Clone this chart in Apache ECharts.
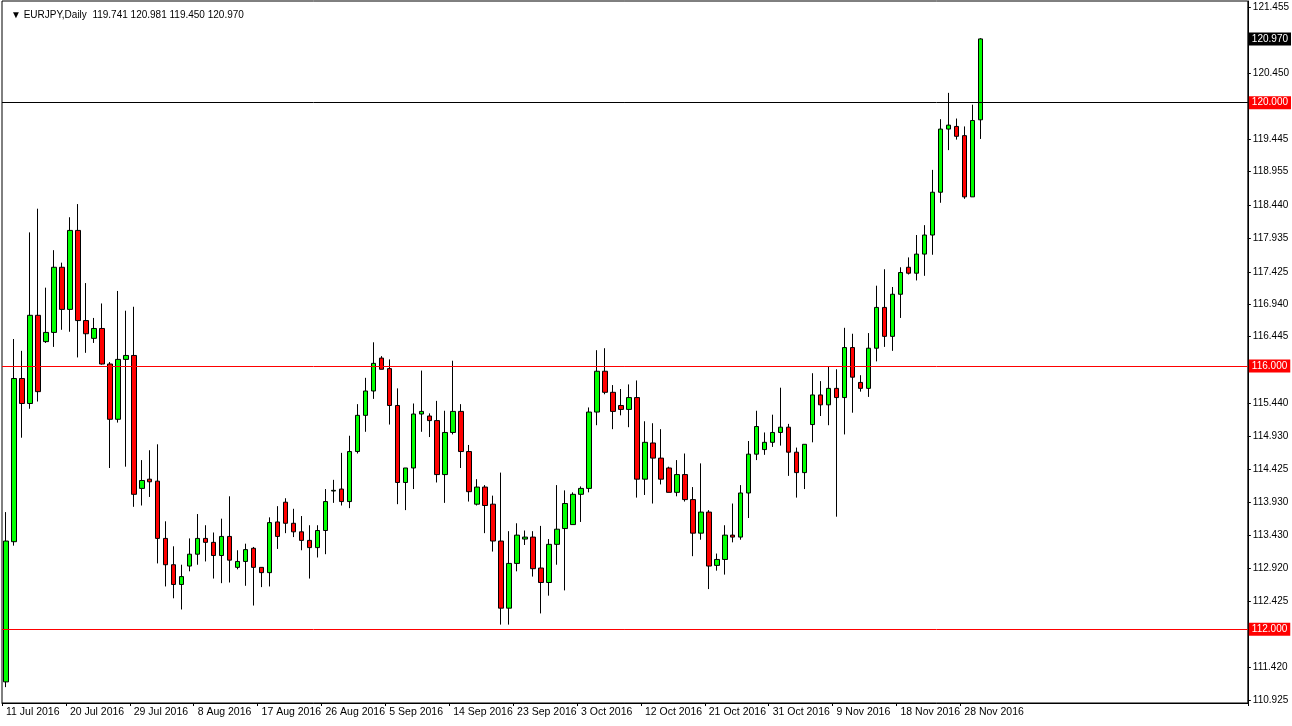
<!DOCTYPE html>
<html><head><meta charset="utf-8">
<script src="https://cdn.jsdelivr.net/npm/echarts@6/dist/echarts.min.js"></script>
<style>html,body{margin:0;padding:0;background:#fff}#c{width:1292px;height:726px}</style>
</head><body><div id="c"></div>
<script>
const symbol = 'EURJPY,Daily';
const opens = [111.20,113.33,115.81,115.43,116.77,116.37,116.51,117.50,116.86,118.06,
116.69,116.42,116.57,116.03,115.19,116.10,116.16,114.14,114.28,114.25,
113.38,112.98,112.68,112.96,113.14,113.38,113.32,113.12,113.41,112.94,
113.03,113.23,112.94,112.86,113.63,113.93,113.61,113.48,113.35,113.24,
113.50,114.10,114.13,113.94,114.70,115.25,115.62,116.12,115.96,115.40,
114.23,114.45,115.27,115.24,115.17,114.35,114.99,115.31,114.70,113.90,
114.16,113.90,113.34,112.32,113.00,113.37,113.40,112.93,112.71,113.29,
113.53,113.59,114.05,114.14,115.30,115.92,115.60,115.40,115.34,115.52,
114.28,114.83,114.60,114.45,114.08,114.35,113.97,113.46,113.78,112.97,
113.06,113.43,113.40,114.07,114.66,114.73,114.84,114.99,115.07,114.69,
114.38,115.11,115.56,115.41,115.66,115.52,116.28,115.75,115.66,116.27,
116.89,116.45,117.09,117.50,117.41,117.70,117.99,118.64,119.60,119.64,
119.50,118.57,119.741];
const closes = [113.34,115.81,115.43,116.77,115.61,116.51,117.50,116.86,118.06,116.69,
116.49,116.57,116.03,115.19,116.10,116.16,114.05,114.26,114.24,113.38,
112.98,112.68,112.80,113.14,113.38,113.32,113.12,113.41,113.05,113.03,
113.21,112.94,112.86,113.62,113.41,113.61,113.48,113.35,113.24,113.50,
113.94,114.11,113.94,114.70,115.25,115.62,116.04,115.95,115.40,114.23,
114.45,115.27,115.31,115.17,114.35,114.99,115.31,114.70,114.09,114.16,
113.88,113.34,112.32,113.00,113.43,113.40,112.92,112.71,113.29,113.52,
113.91,114.05,114.14,115.30,115.92,115.60,115.31,115.34,115.52,114.28,
114.84,114.60,114.28,114.08,114.35,113.97,113.46,113.78,112.96,113.06,
113.43,113.40,114.07,114.66,115.08,114.84,114.99,115.07,114.69,114.38,
114.81,115.56,115.41,115.66,115.52,116.28,115.83,115.66,116.27,116.89,
116.45,117.09,117.42,117.41,117.70,117.99,118.64,119.60,119.66,119.49,
118.57,119.73,120.970];
const highs = [113.78,116.41,116.23,118.03,118.39,117.19,117.76,117.57,118.26,118.46,
117.26,116.73,116.95,116.06,117.14,116.84,116.90,114.57,114.72,114.81,
113.64,113.26,112.98,113.38,113.75,113.58,113.47,113.68,114.02,113.20,
113.30,113.25,112.94,113.70,113.87,113.99,113.83,113.72,113.58,113.58,
114.13,114.27,114.68,114.94,115.42,115.82,116.36,116.15,116.10,115.66,
114.45,115.43,115.93,115.28,115.47,115.32,116.08,115.42,114.80,114.28,
114.19,114.03,114.38,113.49,113.61,113.50,113.49,113.57,113.37,114.19,
114.11,114.08,114.17,115.37,116.24,116.27,115.71,115.65,115.72,115.78,
115.16,115.13,115.04,114.47,114.57,114.67,114.16,114.52,113.81,113.15,
113.58,113.91,114.19,114.86,115.32,114.99,115.26,115.67,115.12,114.76,
114.81,115.89,115.77,115.99,115.95,116.58,116.49,115.86,116.50,117.22,
117.47,117.20,117.50,117.65,117.99,118.14,118.98,119.75,120.15,119.76,
119.64,119.97,120.981];
const lows = [111.12,113.27,114.91,115.35,115.46,116.35,116.29,116.55,116.52,116.13,
116.20,116.35,116.02,114.45,115.14,114.47,113.86,113.88,114.01,113.00,
112.65,112.47,112.30,112.88,112.98,113.03,112.77,112.70,112.71,112.91,
112.66,112.36,112.64,112.65,113.22,113.46,113.40,113.20,112.77,113.09,
113.14,113.92,113.88,113.84,114.67,115.00,115.50,115.95,115.11,113.90,
113.81,114.13,115.00,114.92,114.23,113.92,114.96,114.45,113.94,113.88,
113.46,113.18,112.07,112.07,112.88,113.28,112.80,112.24,112.51,112.98,
112.59,113.59,113.63,114.08,115.10,115.57,115.04,115.25,115.07,114.00,
114.04,113.91,114.20,114.08,114.02,113.94,113.11,113.36,112.61,112.89,
112.83,113.32,113.36,113.69,114.57,114.65,114.77,114.79,114.33,114.00,
114.13,114.84,115.24,115.10,113.71,114.96,115.29,115.61,115.53,116.07,
116.29,116.23,116.73,117.39,117.30,117.37,117.69,118.48,119.28,119.44,
118.54,118.57,119.450];
const priceTicks = [110.925,111.420,112.425,112.920,113.430,113.930,114.425,114.930,115.440,116.445,116.940,117.425,117.935,118.440,118.955,119.445,120.450,121.455];
const redLevels = [116.000, 112.000];
const blackLevel = 120.000;

const months = ['Jan','Feb','Mar','Apr','May','Jun','Jul','Aug','Sep','Oct','Nov','Dec'];
const categories = [];
let d = new Date(Date.UTC(2016,6,11));
while (categories.length < opens.length) {
  if (d.getUTCDay() !== 6) categories.push(d.getUTCDate()+' '+months[d.getUTCMonth()]+' '+d.getUTCFullYear());
  d = new Date(d.getTime()+86400000);
}
const totalSlots = 156;
while (categories.length < totalSlots) categories.push('');

const data = opens.map((o,i)=>[o, closes[i], lows[i], highs[i]]);
const n = opens.length - 1;
const header = '\u25BC ' + symbol + '  ' + opens[n].toFixed(3) + ' ' + highs[n].toFixed(3) + ' ' + lows[n].toFixed(3) + ' ' + closes[n].toFixed(3);
const FONT = 'Liberation Sans, DejaVu Sans, sans-serif';

const tag = (v, bg, lineColor) => ({
  yAxis: v,
  lineStyle: {color: lineColor, width: 1, type: 'solid'},
  label: {show: true, position: 'end', distance: 1, formatter: v.toFixed(3),
    color: '#fff', backgroundColor: bg, padding: [2,3,1,3], fontSize: 10, fontFamily: FONT}
});

const chart = echarts.init(document.getElementById('c'));
chart.setOption({
  animation: false,
  backgroundColor: '#fff',
  title: {text: header, left: 6, top: 5, textStyle: {fontSize: 10, fontWeight: 'normal', color: '#000', fontFamily: FONT}},
  grid: {left: 2, right: 44, top: 1, bottom: 23, show: true, borderColor: '#000', borderWidth: 1, backgroundColor: '#fff'},
  xAxis: {
    type: 'category', data: categories, boundaryGap: true,
    axisLine: {lineStyle: {color: '#000'}},
    axisTick: {show: true, length: 3, interval: (i,v)=> i%8===0 && v!=='', lineStyle: {color: '#000'}},
    axisLabel: {interval: (i,v)=> i%8===0 && v!=='', align: 'left', margin: 4, fontSize: 10.5, color: '#000', fontFamily: FONT},
    splitLine: {show: false}
  },
  yAxis: {
    type: 'value', position: 'right', min: 110.879, max: 121.546, scale: true,
    axisLine: {show: true, lineStyle: {color: '#000'}},
    axisTick: {show: true, length: 3, customValues: priceTicks, lineStyle: {color: '#000'}},
    axisLabel: {customValues: priceTicks, formatter: v => v.toFixed(3), margin: 5, fontSize: 10, color: '#000', fontFamily: FONT},
    splitLine: {show: false}
  },
  series: [{
    type: 'candlestick', data: data, barWidth: 5,
    itemStyle: {color: '#00ff00', color0: '#ff0000', borderColor: '#000', borderColor0: '#000', borderWidth: 1},
    markLine: {
      silent: true, symbol: ['none','none'], animation: false,
      data: [
        tag(blackLevel, '#ff0000', '#000'),
        tag(redLevels[0], '#ff0000', '#ff0000'),
        tag(redLevels[1], '#ff0000', '#ff0000'),
        tag(closes[n], '#000', 'rgba(0,0,0,0)')
      ]
    }
  }]
});
</script></body></html>
